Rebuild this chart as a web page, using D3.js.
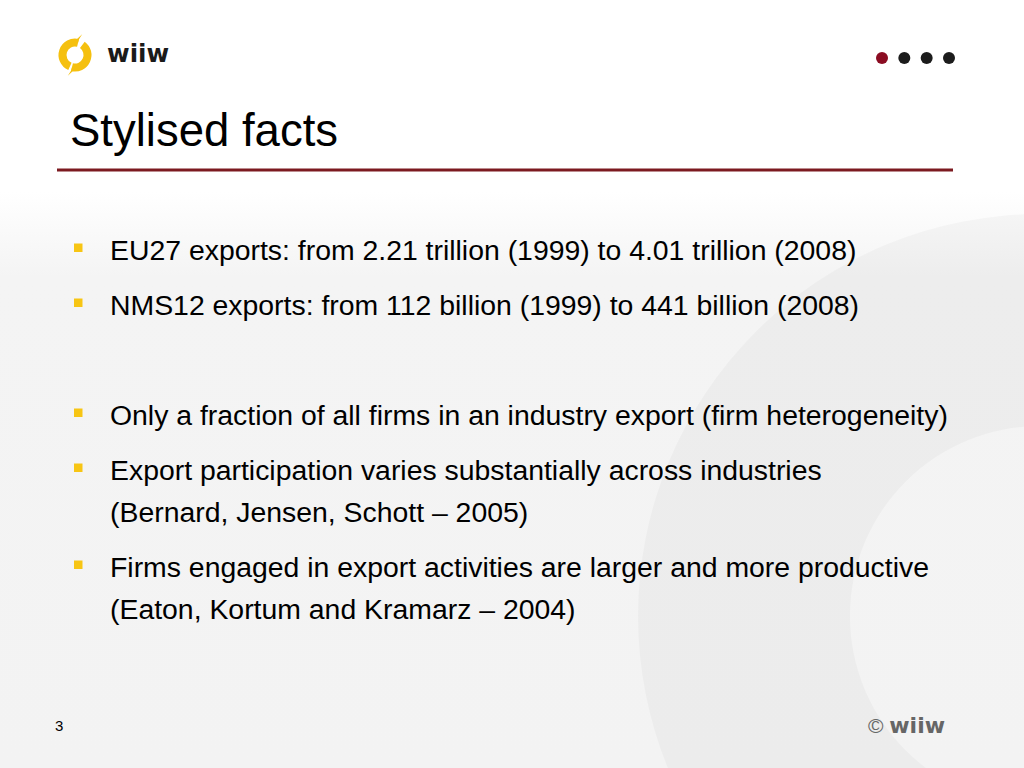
<!DOCTYPE html>
<html>
<head>
<meta charset="utf-8">
<script src="https://cdn.jsdelivr.net/npm/d3@7"></script>
<style>
body{margin:0;background:#fff;overflow:hidden}
svg{display:block}
</style>
</head>
<body>
<div id="slide"></div>
<script>
var titleText = "Stylised facts"
var bullets = [
	["EU27 exports: from 2.21 trillion (1999) to 4.01 trillion (2008)"],
	["NMS12 exports: from 112 billion (1999) to 441 billion (2008)"],
	[],
	["Only a fraction of all firms in an industry export (firm heterogeneity)"],
	["Export participation varies substantially across industries", "(Bernard, Jensen, Schott \u2013 2005)"],
	["Firms engaged in export activities are larger and more productive", "(Eaton, Kortum and Kramarz \u2013 2004)"]
]
var navDots = ["#8b0c22", "#1c1c1c", "#1c1c1c", "#1c1c1c"]
var logoText = "wiiw"
var pageNumber = "3"
var footerText = ["\u00a9 ", "wiiw"]

var w = 1024
var h = 768
var paraGap = 55
var lineGap = 42

var svg = d3.select("#slide").append("svg").attr("width", w).attr("height", h)
var defs = svg.append("defs")

// background: white on top, light grey lower down
var grad = defs.append("linearGradient").attr("id", "bg").attr("x1", 0).attr("y1", 0).attr("x2", 0).attr("y2", 1)
grad.append("stop").attr("offset", "0.25").attr("stop-color", "#ffffff")
grad.append("stop").attr("offset", "0.36").attr("stop-color", "#f4f4f4")
grad.append("stop").attr("offset", "1").attr("stop-color", "#f3f3f3")
svg.append("rect").attr("width", w).attr("height", h).attr("fill", "url(#bg)")

// big faint ring on the right
var ring = d3.arc().innerRadius(190).outerRadius(402).startAngle(0).endAngle(2 * Math.PI)
svg.append("path").attr("d", ring()).attr("transform", "translate(1040,616)")
	.attr("fill", "#000").attr("fill-opacity", 0.027)

// logo: two open arcs with small tails
var cx = 75, cy = 55
function polar(r, deg){
	var a = deg * Math.PI / 180
	return [cx + r * Math.sin(a), cy - r * Math.cos(a)]
}
var logoArc = d3.arc().innerRadius(8.5).outerRadius(16.5)
var logoParts = [[-156, 14], [36, 194]]
var logo = svg.append("g")
logo.selectAll(".logoArc").data(logoParts).enter().append("path")
	.attr("class", "logoArc")
	.attr("d", function(d){ return logoArc({startAngle: d[0] * Math.PI / 180, endAngle: d[1] * Math.PI / 180}) })
	.attr("transform", "translate(" + cx + "," + cy + ")")
	.attr("fill", "#f5c00f")
logo.selectAll(".tail").data(logoParts).enter().append("path")
	.attr("class", "tail")
	.attr("d", function(d){
		var e = d[1]
		return d3.line()([polar(12, e), polar(16.5, e - 6), polar(22, e + 5), polar(16, e)]) + "Z"
	})
	.attr("fill", "#f5c00f")
svg.append("text").text(logoText).attr("x", 107).attr("y", 62)
	.style("font-family", "DejaVu Sans").style("font-weight", 700).style("font-size", "24.5px")
	.attr("fill", "#1a1a1a")

// navigation dots
var xDots = d3.scalePoint().domain(d3.range(navDots.length)).range([882, 949])
svg.selectAll(".dot").data(navDots).enter().append("circle")
	.attr("class", "dot")
	.attr("cx", function(d, i){ return xDots(i) })
	.attr("cy", 58)
	.attr("r", 6)
	.attr("fill", function(d){ return d })

// title and rule
svg.append("text").text(titleText).attr("x", 70).attr("y", 146)
	.style("font-family", "Liberation Sans").style("font-size", "45.5px").attr("fill", "#000")
svg.append("line").attr("x1", 57).attr("x2", 953).attr("y1", 170).attr("y2", 170)
	.attr("stroke", "#7c1a20").attr("stroke-width", 3)

// bullet lines
var yPara = d3.scaleLinear().domain([0, 1]).range([260, 260 + paraGap])
var rows = []
var extra = 0
bullets.forEach(function(lines, p){
	lines.forEach(function(t, k){
		rows.push({text: t, first: k == 0, y: yPara(p) + (extra + k) * lineGap})
	})
	if(lines.length > 1){ extra += lines.length - 1 }
})

svg.selectAll(".bullet").data(rows.filter(function(d){ return d.first })).enter().append("rect")
	.attr("class", "bullet")
	.attr("x", 74)
	.attr("y", function(d){ return d.y - 16.5 })
	.attr("width", 8.5)
	.attr("height", 8.5)
	.attr("fill", "#f7c514")

svg.selectAll(".line").data(rows).enter().append("text")
	.attr("class", "line")
	.text(function(d){ return d.text })
	.attr("x", 110)
	.attr("y", function(d){ return d.y })
	.style("font-family", "Liberation Sans")
	.style("font-size", "28.4px")
	.attr("fill", "#000")

// footer
svg.append("text").text(pageNumber).attr("x", 55).attr("y", 731)
	.style("font-family", "Liberation Sans").style("font-size", "15px").attr("fill", "#000")
var foot = svg.append("text").attr("x", 945).attr("y", 733).attr("text-anchor", "end").attr("fill", "#666")
foot.append("tspan").text(footerText[0]).style("font-family", "Liberation Sans").style("font-size", "21px")
foot.append("tspan").text(footerText[1]).style("font-family", "DejaVu Sans").style("font-weight", 700).style("font-size", "22px")
</script>
</body>
</html>
